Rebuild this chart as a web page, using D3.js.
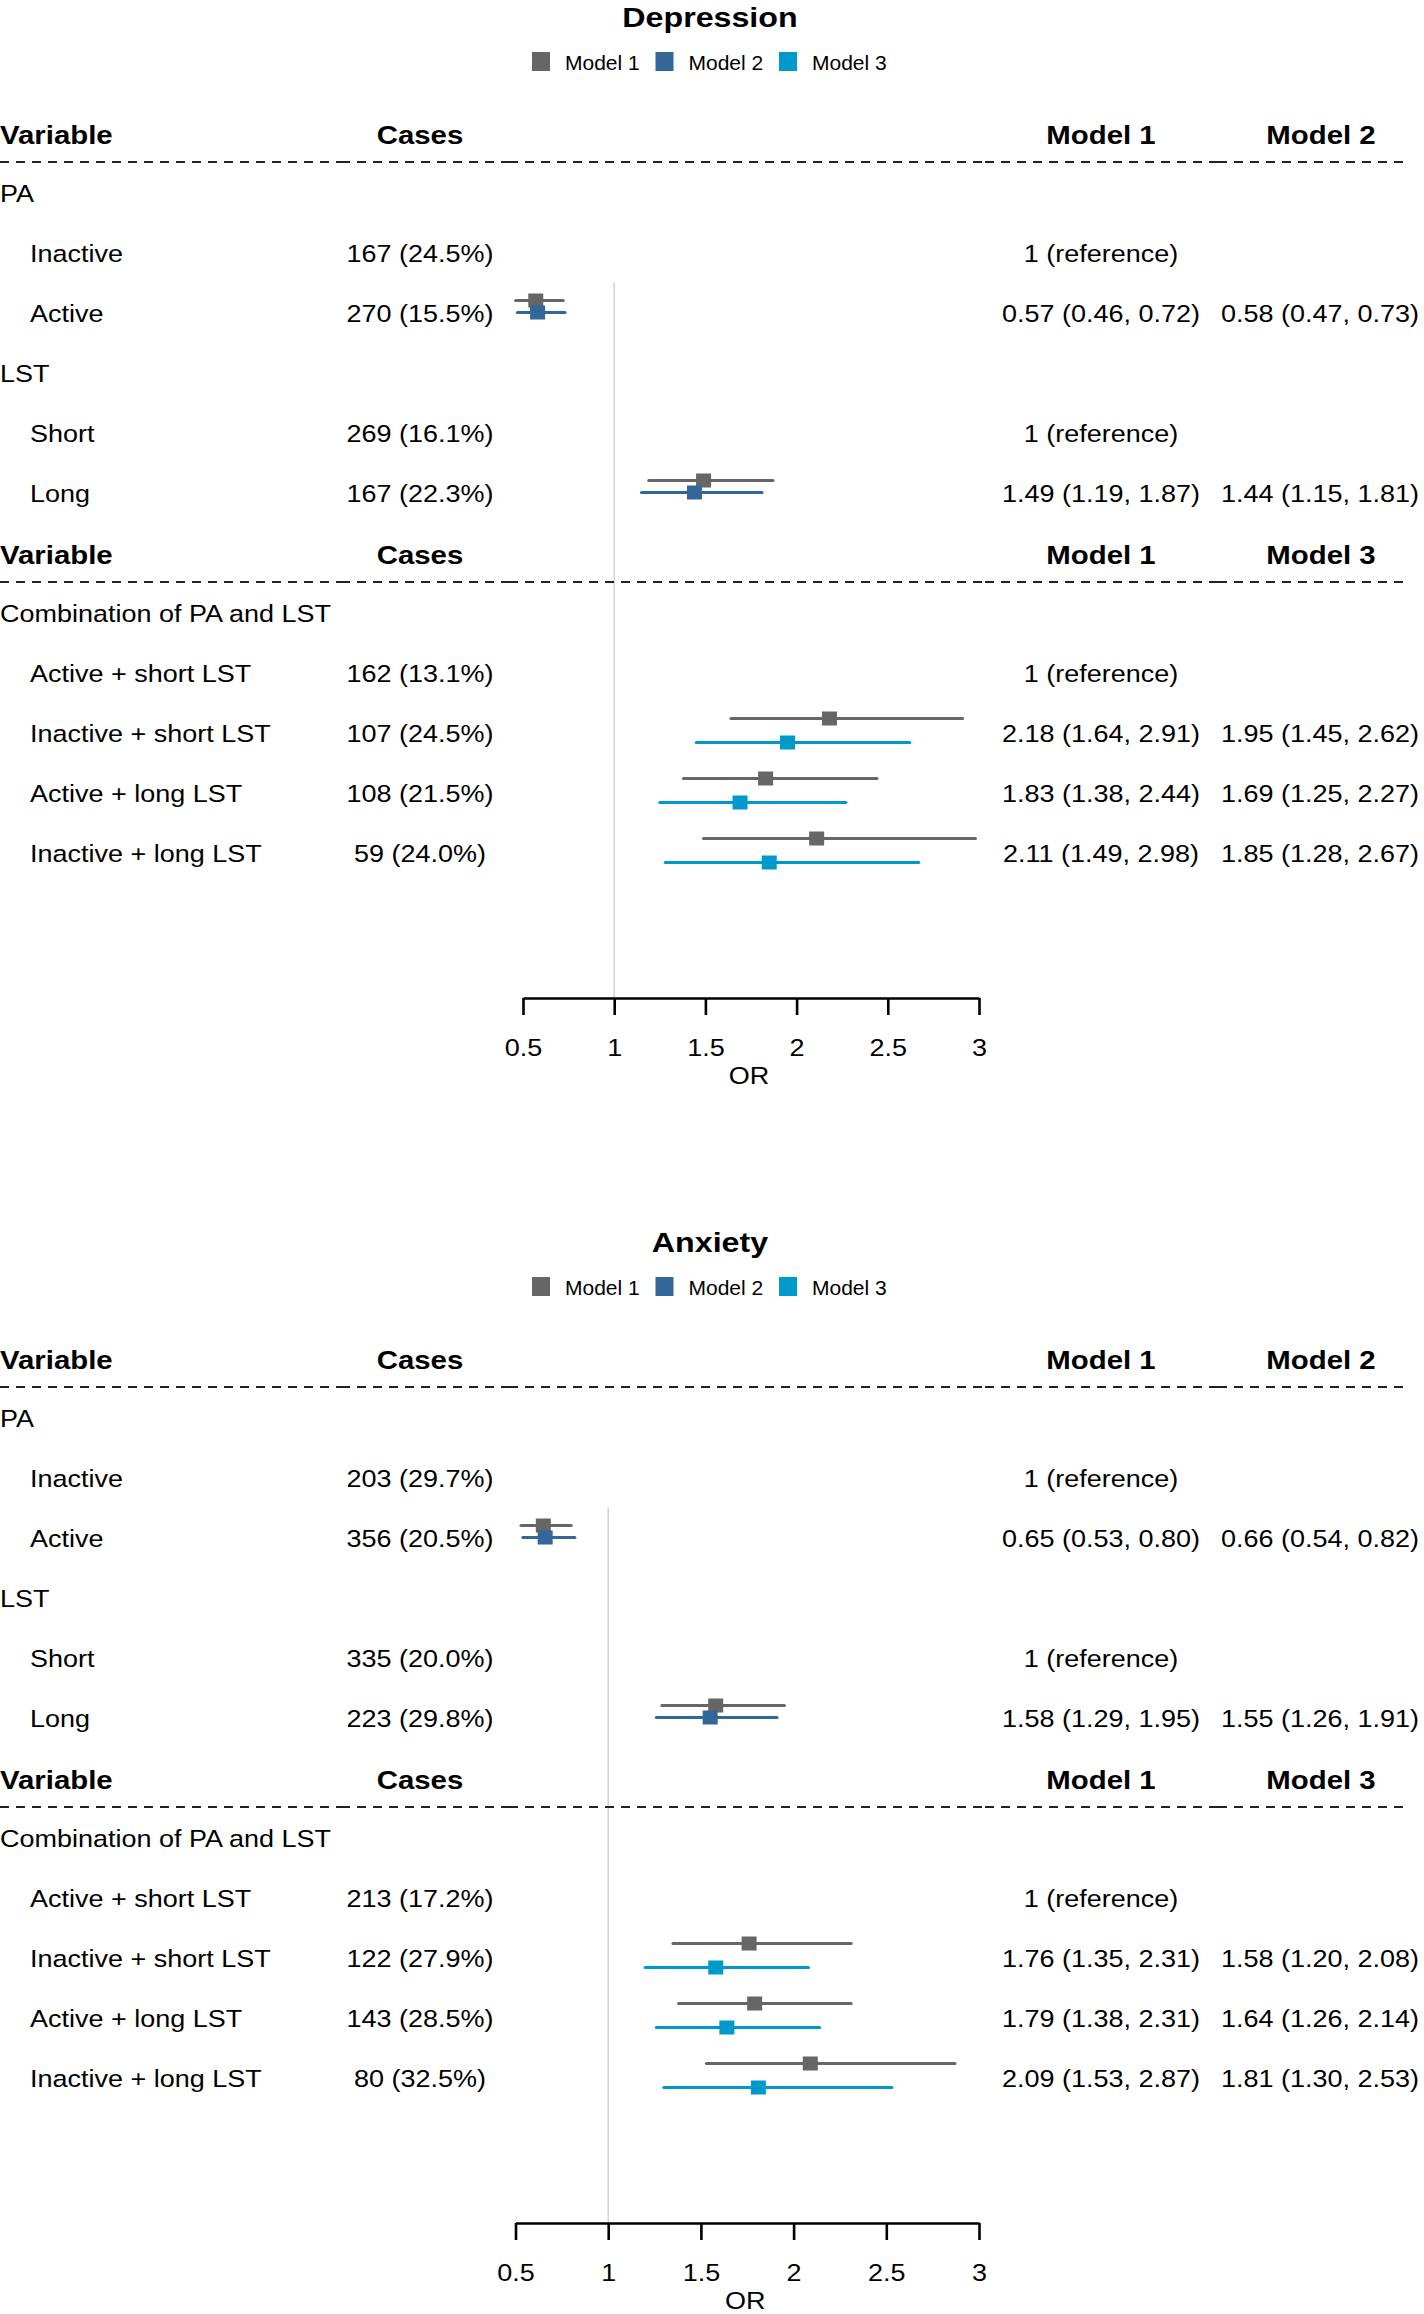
<!DOCTYPE html>
<html>
<head>
<meta charset="utf-8">
<script src="https://cdn.jsdelivr.net/npm/d3@7"></script>
<style>
  html, body { margin: 0; padding: 0; background: #fff; }
  svg text { font-family: "Liberation Sans", Arial, Helvetica, sans-serif; fill: #000; }
</style>
</head>
<body>
<svg id="chart" width="1424" height="2314"></svg>
<script>
// forest plots: odds ratios of depression / anxiety by PA, LST and their combination

const models = ['Model 1', 'Model 2', 'Model 3'];
const modelColors = ['#666666', '#336699', '#0099CC'];
const groupLabels = ['PA', 'LST', 'Combination of PA and LST'];
const itemLabels = ['Inactive', 'Active', 'Short', 'Long',
  'Active + short LST', 'Inactive + short LST', 'Active + long LST', 'Inactive + long LST'];
const itemGroup = [0, 0, 1, 1, 2, 2, 2, 2];
const secondModel = [1, 1, 1, 1, 2, 2, 2, 2];   // index into models for the right column
const ticks = [0.5, 1, 1.5, 2, 2.5, 3];

// [estimate, lower, upper]; null = reference category
const depCases = ['167 (24.5%)', '270 (15.5%)', '269 (16.1%)', '167 (22.3%)',
  '162 (13.1%)', '107 (24.5%)', '108 (21.5%)', '59 (24.0%)'];
const depM1 = [null, [0.57, 0.46, 0.72], null, [1.49, 1.19, 1.87],
  null, [2.18, 1.64, 2.91], [1.83, 1.38, 2.44], [2.11, 1.49, 2.98]];
const depM23 = [null, [0.58, 0.47, 0.73], null, [1.44, 1.15, 1.81],
  null, [1.95, 1.45, 2.62], [1.69, 1.25, 2.27], [1.85, 1.28, 2.67]];

const anxCases = ['203 (29.7%)', '356 (20.5%)', '335 (20.0%)', '223 (29.8%)',
  '213 (17.2%)', '122 (27.9%)', '143 (28.5%)', '80 (32.5%)'];
const anxM1 = [null, [0.65, 0.53, 0.80], null, [1.58, 1.29, 1.95],
  null, [1.76, 1.35, 2.31], [1.79, 1.38, 2.31], [2.09, 1.53, 2.87]];
const anxM23 = [null, [0.66, 0.54, 0.82], null, [1.55, 1.26, 1.91],
  null, [1.58, 1.20, 2.08], [1.64, 1.26, 2.14], [1.81, 1.30, 2.53]];

const svg = d3.select('#chart');
const fmt = d3.format('.2f');
const orText = v => v ? `${fmt(v[0])} (${fmt(v[1])}, ${fmt(v[2])})` : '1 (reference)';

function txt(g, x, y, s, o = {}) {
  const size = o.size || 24, sx = o.sx || 1.125;
  g.append('text')
    .attr('transform', `translate(${x},${y}) scale(${sx},1)`)
    .attr('text-anchor', o.anchor || 'start')
    .attr('font-size', size)
    .attr('font-weight', o.weight || 400)
    .text(s);
}

function panel(off, title, cases, m1, m23, xRange) {
  const g = svg.append('g').attr('transform', `translate(0,${off})`);
  const x = d3.scaleLinear().domain([0.5, 3]).range(xRange);
  const rowY = k => 133.5 + 60 * k;
  const base = (k, size) => rowY(k) + 0.36 * size;

  // title + legend
  txt(g, 710, 27, title, {size: 28, weight: 700, anchor: 'middle', sx: 1.15});
  const leg = g.append('g');
  models.forEach((m, i) => {
    const lx = 532 + i * 123.5;
    leg.append('rect').attr('x', lx).attr('y', 52).attr('width', 18).attr('height', 19)
      .attr('fill', modelColors[i]);
    txt(leg, lx + 33, 69.5, m, {size: 21, sx: 1});
  });

  // row layout: header, groups, items
  const rows = [];
  let k = 0;
  itemLabels.forEach((lab, i) => {
    if (i === 0 || secondModel[i] !== secondModel[i - 1]) rows.push({kind: 'head', k: k++, sec: secondModel[i]});
    if (i === 0 || itemGroup[i] !== itemGroup[i - 1]) rows.push({kind: 'group', k: k++, g: itemGroup[i]});
    rows.push({kind: 'item', k: k++, i});
  });

  // reference line at OR = 1
  const firstCI = rows.find(r => r.kind === 'item' && m1[r.i]);
  g.append('line').attr('x1', x(1)).attr('x2', x(1))
    .attr('y1', rowY(firstCI.k) - 31).attr('y2', 998)
    .attr('stroke', '#d4d4d4').attr('stroke-width', 1.6);

  const colEdges = [0, 341, 509, 985, 1218, 1410];
  rows.forEach(r => {
    if (r.kind === 'head') {
      const by = base(r.k, 26) + 1;
      txt(g, 0, by, 'Variable', {size: 26, weight: 700, sx: 1.13});
      txt(g, 420, by, 'Cases', {size: 26, weight: 700, anchor: 'middle', sx: 1.13});
      txt(g, 1101, by, models[0], {size: 26, weight: 700, anchor: 'middle', sx: 1.13});
      txt(g, 1321, by, models[r.sec], {size: 26, weight: 700, anchor: 'middle', sx: 1.13});
      const dy = rowY(r.k) + 28.5;
      d3.pairs(colEdges).forEach(([a, b]) => {
        g.append('line').attr('x1', a).attr('x2', b).attr('y1', dy).attr('y2', dy)
          .attr('stroke', '#222').attr('stroke-width', 2).attr('stroke-dasharray', '9,7');
      });
    } else if (r.kind === 'group') {
      txt(g, 0, base(r.k, 24), groupLabels[r.g]);
    } else {
      const i = r.i, by = base(r.k, 24);
      txt(g, 30, by, itemLabels[i]);
      txt(g, 420, by, cases[i], {anchor: 'middle'});
      txt(g, 1101, by, orText(m1[i]), {anchor: 'middle'});
      if (m23[i]) txt(g, 1320, by, orText(m23[i]), {anchor: 'middle'});
      const offs = secondModel[i] === 1 ? [-13, -1] : [-15, 9];
      [[m1[i], 0], [m23[i], secondModel[i]]].forEach(([v, mi], j) => {
        if (!v) return;
        const cy = rowY(r.k) + offs[j];
        g.append('line').attr('x1', x(v[1])).attr('x2', x(v[2])).attr('y1', cy).attr('y2', cy)
          .attr('stroke', modelColors[mi]).attr('stroke-width', 3.2).attr('stroke-linecap', 'round');
        g.append('rect').attr('x', x(v[0]) - 7.5).attr('y', cy - 7)
          .attr('width', 15).attr('height', 14).attr('fill', modelColors[mi]);
      });
    }
  });

  // x axis
  const ax = g.append('g').attr('transform', 'translate(0,998)')
    .call(d3.axisBottom(x).tickValues(ticks).tickFormat(d => String(d)).tickSize(17).tickSizeOuter(0));
  ax.select('.domain').attr('stroke', '#000').attr('stroke-width', 2.6);
  ax.selectAll('.tick line').attr('stroke', '#000').attr('stroke-width', 2.6);
  ax.selectAll('.tick text').attr('y', 58).attr('dy', 0).attr('font-size', 24)
    .attr('font-family', null).attr('transform', 'scale(1.125,1)');
  txt(g, (xRange[0] + xRange[1]) / 2 - 2, 1084, 'OR', {anchor: 'middle'});
}

panel(0, 'Depression', depCases, depM1, depM23, [523, 979]);
panel(1225, 'Anxiety', anxCases, anxM1, anxM23, [515.5, 979]);
</script>
</body>
</html>
